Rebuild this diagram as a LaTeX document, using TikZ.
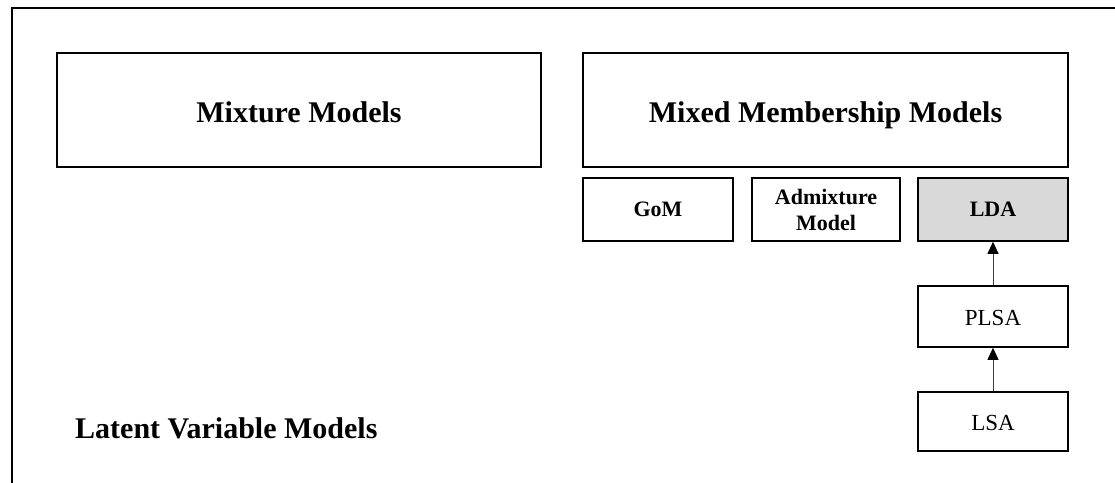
\documentclass[tikz,border=0pt]{standalone}
\usepackage{fontspec}
\setmainfont{Liberation Serif}
\usetikzlibrary{arrows.meta}
\definecolor{ldafill}{RGB}{217,217,217}
\definecolor{linegray}{RGB}{60,60,60}
\begin{document}
\begin{tikzpicture}[x=1pt,y=-1pt,
  box/.style={draw=black,line width=1.6pt,rectangle,inner sep=0pt,align=center},
  bigbox/.style={box,minimum width=484pt,minimum height=114pt,text height=24pt,text depth=0pt,font=\fontsize{30}{36}\selectfont\bfseries},
  smallbox/.style={box,minimum height=63pt,font=\fontsize{22}{26}\selectfont\bfseries},
  plainbox/.style={box,minimum width=150pt,text height=18pt,text depth=0pt,font=\fontsize{23}{27}\selectfont},
  link/.style={draw=linegray,line width=0.9pt,-{Triangle[width=11pt,length=12pt,black]}}]
\useasboundingbox (0,0) rectangle (1115,482);
\draw[line width=2pt,black] (1116,7.5) -- (12,7.5) -- (12,483);
\node[bigbox] (mix) at (299,110) {Mixture Models};
\node[bigbox,minimum width=485pt] (mmm) at (825.5,110) {Mixed Membership Models};
\node[smallbox,minimum width=150pt] (gom) at (658,209.5) {GoM};
\node[smallbox,minimum width=148pt] (adm) at (826,209.5) {Admixture\\Model};
\node[smallbox,minimum width=150pt,fill=ldafill] (lda) at (993,209.5) {LDA};
\node[plainbox,minimum height=61pt] (plsa) at (993,316.5) {PLSA};
\node[plainbox,minimum height=59pt] (lsa) at (993,421.5) {LSA};
\node[anchor=base west,inner sep=0pt,font=\fontsize{30}{36}\selectfont\bfseries] (lvm) at (75,438) {Latent Variable Models};
\draw[link] (plsa.north) -- (lda.south);
\draw[link] (lsa.north) -- (plsa.south);
\end{tikzpicture}
\end{document}
